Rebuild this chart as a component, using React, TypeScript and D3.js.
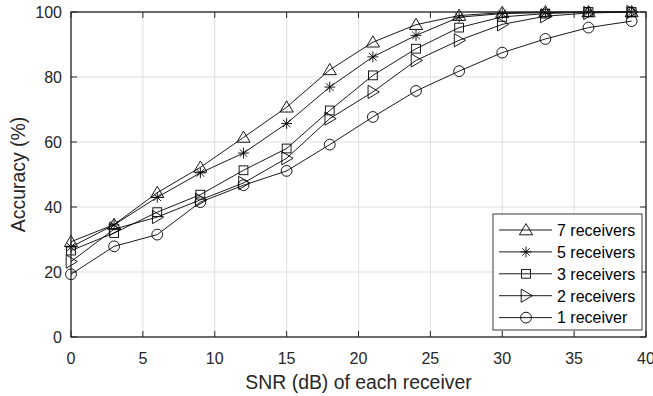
import React from "react";
import * as d3 from "d3";

const snr = [0, 3, 6, 9, 12, 15, 18, 21, 24, 27, 30, 33, 36, 39];

const acc7 = [29.3, 34.6, 44.4, 52.2, 61.4, 70.7, 82.2, 90.7, 96.1, 98.9, 99.8, 100, 100, 100];
const acc5 = [27.7, 34.5, 43.0, 50.5, 56.6, 65.7, 76.9, 86.2, 92.8, 98.4, 99.5, 99.8, 100, 100];
const acc3 = [26.6, 32.0, 38.4, 43.8, 51.3, 58.0, 69.7, 80.5, 88.7, 95.2, 98.5, 99.5, 100, 100];
const acc2 = [23.2, 33.2, 36.9, 42.2, 47.4, 55.0, 67.2, 75.4, 85.1, 91.3, 96.2, 98.7, 99.7, 100];
const acc1 = [19.3, 27.9, 31.5, 41.5, 46.7, 51.1, 59.2, 67.7, 75.7, 81.8, 87.5, 91.7, 95.2, 97.2];

const seriesNames = ["7 receivers", "5 receivers", "3 receivers", "2 receivers", "1 receiver"];
const seriesMarkers = ["triUp", "star", "square", "triRight", "circle"];
const seriesValues = [acc7, acc5, acc3, acc2, acc1];

const xTicks = [0, 5, 10, 15, 20, 25, 30, 35, 40];
const yTicks = [0, 20, 40, 60, 80, 100];

const W = 653;
const H = 396;
const M = { left: 71, right: 646, top: 12, bottom: 337 };
const INK = "#262626";
const FONT = "'Liberation Sans', Arial, Helvetica, sans-serif";

function Marker({ type, x, y }: { type: string; x: number; y: number }) {
  const common = { fill: "none", stroke: "#000", strokeWidth: 0.9 };
  if (type === "circle") return <circle cx={x} cy={y} r={5.4} {...common} />;
  if (type === "square") return <rect x={x - 4.4} y={y - 4.4} width={8.8} height={8.8} {...common} />;
  if (type === "triUp")
    return <path d={`M${x},${y - 6.4}L${x + 6.6},${y + 4.8}L${x - 6.6},${y + 4.8}Z`} {...common} />;
  if (type === "triRight")
    return <path d={`M${x + 6.4},${y}L${x - 4.8},${y + 6.6}L${x - 4.8},${y - 6.6}Z`} {...common} />;
  // asterisk: plus combined with a cross
  const a = 5.4;
  const b = 3.8;
  return (
    <path
      d={`M${x},${y - a}V${y + a}M${x - a},${y}H${x + a}M${x - b},${y - b}L${x + b},${y + b}M${x - b},${y + b}L${x + b},${y - b}`}
      {...common}
    />
  );
}

export default function App() {
  const x = d3.scaleLinear().domain([0, 40]).range([M.left, M.right]);
  const y = d3.scaleLinear().domain([0, 100]).range([M.bottom, M.top]);
  const line = d3
    .line<number>()
    .x((_, i) => x(snr[i]))
    .y((v) => y(v));

  const legend = { x0: 493, x1: 642, y0: 214, y1: 330, row0: 230, dy: 21.9 };

  return (
    <svg
      width={W}
      height={H}
      style={{ position: "absolute", left: 0, top: 0, background: "#fff" }}
      fontFamily={FONT}
    >
      <rect x={0} y={0} width={W} height={H} fill="#fff" />
      {/* grid */}
      {xTicks.map((t) => (
        <line key={`gx${t}`} x1={x(t)} x2={x(t)} y1={M.top} y2={M.bottom} stroke="#dfdfdf" strokeWidth={1} />
      ))}
      {yTicks.map((t) => (
        <line key={`gy${t}`} x1={M.left} x2={M.right} y1={y(t)} y2={y(t)} stroke="#dfdfdf" strokeWidth={1} />
      ))}

      {/* series */}
      {seriesValues.map((vals, si) => (
        <g key={seriesNames[si]}>
          <path d={line(vals) || ""} fill="none" stroke="#000" strokeWidth={0.9} />
          {vals.map((v, i) => (
            <Marker key={i} type={seriesMarkers[si]} x={x(snr[i])} y={y(v)} />
          ))}
        </g>
      ))}

      {/* axes box and ticks */}
      <rect
        x={M.left}
        y={M.top}
        width={M.right - M.left}
        height={M.bottom - M.top}
        fill="none"
        stroke={INK}
        strokeWidth={1.3}
      />
      {xTicks.map((t) => (
        <g key={`tx${t}`}>
          <line x1={x(t)} x2={x(t)} y1={M.bottom} y2={M.bottom - 6} stroke={INK} strokeWidth={1} />
          <line x1={x(t)} x2={x(t)} y1={M.top} y2={M.top + 6} stroke={INK} strokeWidth={1} />
          <text x={x(t)} y={364} textAnchor="middle" fontSize={16} fill={INK}>
            {t}
          </text>
        </g>
      ))}
      {yTicks.map((t) => (
        <g key={`ty${t}`}>
          <line x1={M.left} x2={M.left + 6} y1={y(t)} y2={y(t)} stroke={INK} strokeWidth={1} />
          <line x1={M.right} x2={M.right - 6} y1={y(t)} y2={y(t)} stroke={INK} strokeWidth={1} />
          <text x={62} y={y(t) + 6} textAnchor="end" fontSize={16} fill={INK}>
            {t}
          </text>
        </g>
      ))}

      {/* axis labels */}
      <text x={(M.left + M.right) / 2} y={389} textAnchor="middle" fontSize={19.4} fill={INK}>
        SNR (dB) of each receiver
      </text>
      <text
        transform={`translate(25,${(M.top + M.bottom) / 2}) rotate(-90)`}
        textAnchor="middle"
        fontSize={19.4}
        fill={INK}
      >
        Accuracy (%)
      </text>

      {/* legend */}
      <rect
        x={legend.x0}
        y={legend.y0}
        width={legend.x1 - legend.x0}
        height={legend.y1 - legend.y0}
        fill="#fff"
        stroke={INK}
        strokeWidth={0.9}
      />
      {seriesNames.map((name, i) => {
        const ry = legend.row0 + i * legend.dy;
        return (
          <g key={`lg${name}`}>
            <line x1={499} x2={552} y1={ry} y2={ry} stroke="#000" strokeWidth={0.9} />
            <Marker type={seriesMarkers[i]} x={526} y={ry} />
            <text x={557} y={ry + 5.8} fontSize={16} fill="#000">
              {name}
            </text>
          </g>
        );
      })}
    </svg>
  );
}
